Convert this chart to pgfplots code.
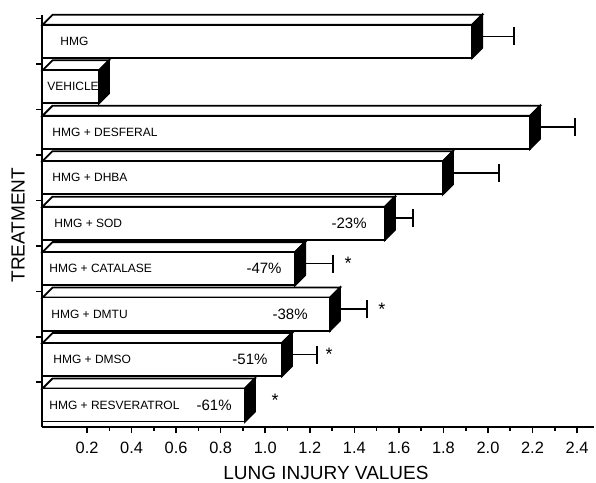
\documentclass[border=0pt]{standalone}
\usepackage{fontspec}
\setmainfont{Liberation Sans}
\usepackage{pgfplots}
\usepackage{pgfplotstable}
\pgfplotsset{compat=1.18}

% y = position (0 bottom), v = lung injury value (front face)
\pgfplotstableread{
y v
8 1.929
7 0.254
6 2.189
5 1.798
4 1.538
3 1.134
2 1.291
1 1.075
0 0.909
}\data

% error bars: y, mean value, upper end of error bar
\pgfplotstableread{
y v e
8 1.929 2.117
6 2.189 2.391
5 1.798 2.050
4 1.538 1.664
3 1.134 1.304
2 1.291 1.457
1 1.075 1.233
}\errdata

\newcommand\labfont{\fontsize{6}{7}\selectfont}
\newcommand\pctfont{\fontsize{7.5}{8}\selectfont}
\newcommand\axfont{\fontsize{9.5}{11}\selectfont}
\def\dx{0.045}
\def\dy{0.22}
\def\h{0.3635}

\begin{document}
\begin{tikzpicture}
\begin{axis}[
  name=ax, scale only axis, width=275.75pt, height=206pt,
  xmin=0, xmax=2.476, ymin=-0.484, ymax=8.58,
  axis x line*=bottom, axis y line*=left,
  axis line style={line width=1pt},
  xtick={0.2,0.4,0.6,0.8,1.0,1.2,1.4,1.6,1.8,2.0,2.2,2.4},
  minor x tick num=1,
  ytick={0.5,1.5,...,8.5}, yticklabels={},
  tick align=outside,
  major tick length=3pt, minor tick length=1.8pt,
  tick style={line width=0.8pt, black},
  /pgf/number format/assume math mode=true,
  xticklabel style={font=\fontsize{8.2}{10}\selectfont, yshift=-1.2pt, /pgf/number format/.cd, fixed, fixed zerofill, precision=1},
  clip=false,
  xlabel={LUNG INJURY VALUES}, ylabel={TREATMENT},
  xlabel style={at={(rel axis cs:0.514,0)}, anchor=center, yshift=-23pt, font=\axfont},
  ylabel style={at={(rel axis cs:0,0.49)}, anchor=center, yshift=12.25pt, font=\axfont},
]
% top and side faces
\pgfplotsforeachungrouped \r in {0,...,8}{%
  \pgfplotstablegetelem{\r}{y}\of\data \let\yy\pgfplotsretval
  \pgfplotstablegetelem{\r}{v}\of\data \let\vv\pgfplotsretval
  \pgfmathsetmacro\yt{\yy+\h}%
  \pgfmathsetmacro\yb{\yy-\h}%
  \pgfmathsetmacro\ytt{\yy+\h+\dy}%
  \pgfmathsetmacro\ybb{\yy-\h+\dy}%
  \pgfmathsetmacro\vx{\vv+\dx}%
  \edef\cmd{\noexpand\addplot[fill=white,draw=black,line width=0.9pt] coordinates {(0,\yt) (\dx,\ytt) (\vx,\ytt) (\vv,\yt)} -- cycle;
  \noexpand\addplot[fill=black,draw=black,line width=0.9pt] coordinates {(\vv,\yt) (\vx,\ytt) (\vx,\ybb) (\vv,\yb)} -- cycle;}%
  \cmd
}
% front faces
\addplot[xbar, bar shift=0pt, bar width=0.727, fill=white, draw=black, line width=0.9pt] table[x=v,y=y]{\data};
% error bars
\addplot[draw=none, mark=none,
  error bars/.cd, x dir=plus, x explicit, error mark=|,
  error bar style={draw=black, line width=0.8pt},
  error mark options={draw=black, mark size=4.5pt, line width=1pt}]
  table[x expr=\thisrow{v}+0.045, y expr=\thisrow{y}+0.11, x error expr=\thisrow{e}-\thisrow{v}-0.045]{\errdata};
% category labels
\begin{scope}[every node/.style={anchor=west, font=\labfont, inner sep=0pt}]
\node at (axis cs:0.079,8) {HMG};
\node at (axis cs:0.020,7) {VEHICLE};
\node at (axis cs:0.043,6) {HMG + DESFERAL};
\node at (axis cs:0.043,5) {HMG + DHBA};
\node at (axis cs:0.052,4) {HMG + SOD};
\node at (axis cs:0.029,3) {HMG + CATALASE};
\node at (axis cs:0.038,2) {HMG + DMTU};
\node at (axis cs:0.047,1) {HMG + DMSO};
\node at (axis cs:0.029,0) {HMG + RESVERATROL};
\end{scope}
% percent changes
\begin{scope}[every node/.style={anchor=east, font=\pctfont, inner sep=0pt}]
\node at (axis cs:1.457,4) {-23\%};
\node at (axis cs:1.075,3) {-47\%};
\node at (axis cs:1.192,2) {-38\%};
\node at (axis cs:1.012,1) {-51\%};
\node at (axis cs:0.851,0) {-61\%};
\end{scope}
% significance
\begin{scope}[every node/.style={font=\fontsize{9}{10}\selectfont, inner sep=0pt}]
\node at (axis cs:1.372,3.11) {*};
\node at (axis cs:1.524,2.11) {*};
\node at (axis cs:1.287,1.11) {*};
\node at (axis cs:1.044,0.11) {*};
\end{scope}
\end{axis}
\pgfresetboundingbox
\path[use as bounding box] ([xshift=-21.25pt,yshift=-28pt]ax.south west) rectangle ([xshift=1pt,yshift=7.5pt]ax.north east);
\end{tikzpicture}
\end{document}
